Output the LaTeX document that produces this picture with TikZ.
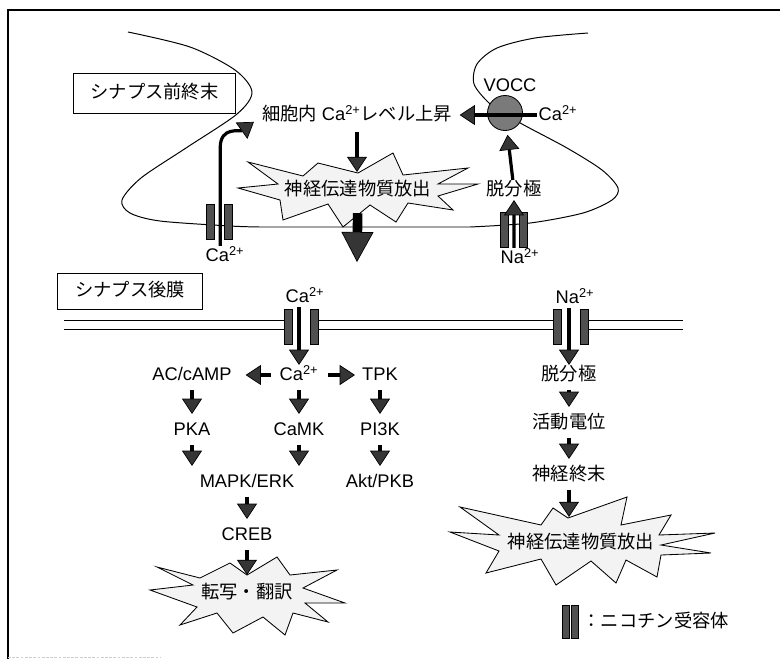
\documentclass[tikz,border=0pt]{standalone}
\usepackage{fontspec}
\setmainfont{Liberation Sans}
\newfontfamily\jp{Noto Sans CJK JP}
\usepackage{tikz}
\usetikzlibrary{arrows.meta}
\definecolor{headgray}{HTML}{353535}
\definecolor{bargray}{HTML}{505050}
\definecolor{voccgray}{HTML}{7A7A7A}
\definecolor{burstfill}{HTML}{F3F3F3}

\begin{document}
\begin{tikzpicture}[x=0.025cm,y=-0.025cm,
        lbl/.style={inner sep=1pt,text height=0.34cm,text depth=0.08cm,
                    font=\fontsize{13}{15}\selectfont},
        jlbl/.style={lbl,font=\jp\fontsize{13}{15}\selectfont},
        tag/.style={jlbl,rectangle,draw,line width=0.7pt},
        bar/.style={rectangle,draw,fill=bargray,line width=0.4pt,
                    minimum width=0.19cm,minimum height=0.87cm,inner sep=0pt},
        burstline/.style={draw,fill=burstfill,line width=0.6pt,line join=miter},
        flow/.style={-{Triangle[width=0.5cm,length=0.38cm,fill=headgray,line width=0.5pt]},
                     line width=0.08cm},
        bigflow/.style={-{Triangle[width=0.8cm,length=0.75cm,fill=headgray,line width=0.5pt]},
                        line width=0.24cm},
        gap/.style={shorten <=0.12cm,shorten >=0.15cm}]
      \useasboundingbox (0,0) rectangle (780,659);
      %% ── Frame ────────────────────────────────────────────
      \draw[line width=1.3pt] (8,659) -- (8,10) -- (780,10);
      \draw[gray!40,line width=0.4pt,dash pattern=on 2pt off 1pt] (8,657) -- (160,657);
      %% ── Region tags ──────────────────────────────────────
      \node[tag,minimum width=4.07cm,minimum height=1cm]   (pretag)  at(154.5,93) {シナプス前終末};
      \node[tag,minimum width=3.6cm,minimum height=0.92cm] (posttag) at(130,291.5){シナプス後膜};
      %% ── Presynaptic terminal outline ─────────────────────
      \draw[line width=0.7pt] plot[smooth] coordinates {(128,32) (190,47) (235,70) (252,92)
            (237,114) (186,148) (141,178) (122,200) (130,213) (160,221) (230,226) (260,227)}
            -- plot[smooth] coordinates {(470,227) (530,223) (583,213) (612,200) (618,188)
            (602,170) (567,148) (522,124) (505,113) (489,103) (474,84) (477,64) (497,48)
            (535,38) (588,33)};
      %% ── Presynaptic texts ────────────────────────────────
      \node[lbl] (rise) at(357,115){{\jp 細胞内} Ca\textsuperscript{2+}{\jp レベル上昇}};
      \node[circle,draw,fill=voccgray,line width=0.6pt,minimum size=0.875cm,inner sep=0pt]
            (vocc) at(505,113){};
      \node[lbl]  (vocclbl) at(510,86) {VOCC};
      \node[lbl]  (cavocc)  at(558,115){Ca\textsuperscript{2+}};
      \node[jlbl] (dep1)    at(514,190){脱分極};
      %% release burst (presynaptic)
      \coordinate (relc) at(358,190);
      \draw[burstline,shift={(relc)}] (-110,-28) -- (-55,-14) -- (-40,-27) -- (0,-17)
            -- (35,-37) -- (45,-15) -- (110,-22) -- (80,-6) -- (120,-6) -- (80,6)
            -- (95,20) -- (50,13) -- (38,32) -- (12,15) -- (-15,37) -- (-30,14)
            -- (-75,30) -- (-78,10) -- (-120,-2) -- (-80,-6) -- cycle;
      \node[jlbl] (rel) at(relc){神経伝達物質放出};
      %% ── Presynaptic channels ─────────────────────────────
      \node[bar] (pcaL) at(210,221.5){};
      \node[bar] (pcaR) at(228.5,221.5){};
      \node[lbl] (capre) at(225,256){Ca\textsuperscript{2+}};
      \node[bar] (pnaL) at(504.5,229.5){};
      \node[bar] (pnaR) at(523.5,229.5){};
      \node[lbl] (napre) at(520,258){Na\textsuperscript{2+}};
      \coordinate (relout) at(357,262);
      %% ── Presynaptic arrows ───────────────────────────────
      \draw[flow] ([xshift=-0.12cm]capre.north) -- ++(0,-98)
            .. controls +(0,-22) and +(-14,10) .. ([xshift=-0.16cm,yshift=0.08cm]rise.south west);
      \draw[flow] ([xshift=-0.15cm]napre.north) -- (dep1.south);
      \draw[flow,shorten >=0.1cm] (dep1) -- (vocc);
      \draw[flow,shorten >=0.15cm] (cavocc.west) -- (rise.east);
      \draw[flow,shorten <=0.18cm,shorten >=0.45cm] (rise) -- (rise |- rel);
      \draw[bigflow,shorten <=0.58cm] (rel.center) -- (relout);
      %% ── Postsynaptic membrane ────────────────────────────
      \foreach \y in {320,329}
        \draw[line width=0.7pt] (64,\y) -- (284,\y) (318,\y) -- (553,\y) (588,\y) -- (683,\y);
      \node[bar,minimum width=0.2cm] (qcaL) at(288,326.5){};
      \node[bar,minimum width=0.2cm] (qcaR) at(314,326.5){};
      \node[bar,minimum width=0.2cm] (qnaL) at(557,327){};
      \node[bar,minimum width=0.2cm] (qnaR) at(584,327){};
      %% ── Ca2+ cascade (left) ──────────────────────────────
      \node[lbl] (capost) at(305,297){Ca\textsuperscript{2+}};
      \node[lbl] (camid)  at(299,375){Ca\textsuperscript{2+}};
      \node[lbl] (acamp)  at(192,375){AC/cAMP};
      \node[lbl] (tpk)    at(380,375){TPK};
      \node[lbl] (pka)    at(192,430){PKA};
      \node[lbl] (camk)   at(299,430){CaMK};
      \node[lbl] (pikk)   at(380,430){PI3K};
      \node[lbl] (mapk)   at(247,482){MAPK/ERK};
      \node[lbl] (akt)    at(380,482){Akt/PKB};
      \node[lbl] (creb)   at(247,535){CREB};
      %% transcription burst
      \coordinate (transc) at(247,593);
      \draw[burstline,shift={(transc)}] (-90,-26) -- (-47,-15) -- (-17,-30) -- (0,-18)
            -- (30,-36) -- (43,-18) -- (90,-23) -- (56,-5) -- (98,10) -- (58,10)
            -- (81,29) -- (46,20) -- (38,42) -- (16,24) -- (-14,40) -- (-30,20)
            -- (-67,32) -- (-50,14) -- (-97,-3) -- (-54,-8) -- cycle;
      \node[jlbl] (trans) at(transc){転写・翻訳};
      \draw[flow] (capost.south -| camid) -- (camid);
      \draw[flow,shorten <=0.17cm,shorten >=0.31cm] (camid) -- (acamp);
      \draw[flow,shorten <=0.21cm,shorten >=0.14cm] (camid) -- (tpk);
      \draw[flow,gap] (acamp) -- (pka);
      \draw[flow,gap] (camid) -- (camk);
      \draw[flow,gap] (tpk) -- (pikk);
      \draw[flow,gap] (pka) -- (pka |- mapk.north);
      \draw[flow,gap] (camk) -- (camk |- mapk.north);
      \draw[flow,gap] (pikk) -- (akt);
      \draw[flow,gap] (mapk) -- (creb);
      \draw[flow,shorten <=0.12cm,shorten >=0.45cm] (creb) -- (trans.center);
      %% ── Na+ pathway (right) ──────────────────────────────
      \node[lbl]  (napost) at(575,298){Na\textsuperscript{2+}};
      \node[jlbl] (dep2)   at(569,375){脱分極};
      \node[jlbl] (ap)     at(569,423){活動電位};
      \node[jlbl] (term)   at(569,475){神経終末};
      %% release burst (nerve ending)
      \coordinate (rel2c) at(581,543);
      \draw[burstline,shift={(rel2c)}] (-121,-36) -- (-40,-18) -- (-28,-35) -- (-13,-25)
            -- (46,-46) -- (40,-18) -- (90,-28) -- (78,-8) -- (134,-10) -- (80,2)
            -- (130,10) -- (80,12) -- (76,34) -- (45,17) -- (35,40) -- (10,18)
            -- (-25,42) -- (-40,16) -- (-95,30) -- (-82,8) -- (-131,-11) -- (-82,-8) -- cycle;
      \node[jlbl] (rel2) at(rel2c){神経伝達物質放出};
      \draw[flow] (napost.south -| dep2) -- (dep2);
      \draw[flow,gap] (dep2) -- (ap);
      \draw[flow,gap] (ap) -- (term);
      \draw[flow,shorten <=0.12cm,shorten >=0.65cm] (term) -- (term |- rel2);
      %% ── Legend ───────────────────────────────────────────
      \node[bar,minimum width=0.17cm,minimum height=0.83cm] (legL) at(565.5,621.5){};
      \node[bar,minimum width=0.17cm,minimum height=0.83cm] (legR) at(574.5,621.5){};
      \node[jlbl,anchor=west] (legtxt) at(581,622){：ニコチン受容体};
    \end{tikzpicture}
\end{document}
